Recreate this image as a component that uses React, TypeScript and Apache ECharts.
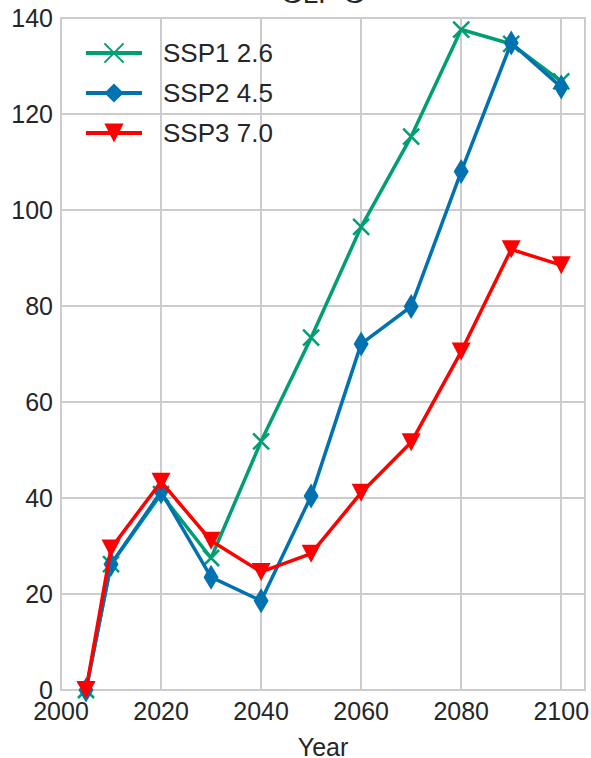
import React, { useEffect, useRef } from "react";
import * as echarts from "echarts";

const years = [2005, 2010, 2020, 2030, 2040, 2050, 2060, 2070, 2080, 2090, 2100];
const ssp126 = [0, 26.2, 40.8, 27.5, 51.8, 73.4, 96.5, 115.3, 137.6, 134.6, 126.8];
const ssp245 = [0, 26.2, 41.3, 23.5, 18.6, 40.4, 72.1, 79.9, 108.0, 134.8, 125.6];
const ssp370 = [0, 29.5, 43.4, 31.1, 24.6, 28.4, 41.1, 51.6, 70.5, 91.8, 88.5];
const seriesNames = ["SSP1 2.6", "SSP2 4.5", "SSP3 7.0"];
const titleText = "GLF G";
const xName = "Year";

const FONT = "'Liberation Sans', Arial, sans-serif";
const TXT = "#262626";
const GRIDC = "#cccccc";

export default function App() {
  const ref = useRef<HTMLDivElement>(null);
  useEffect(() => {
    if (!ref.current) return;
    const chart = echarts.init(ref.current, undefined, { renderer: "svg" });
    const mk = (vals: number[]) => years.map((y, i) => [y, vals[i]]);
    const colors = ["#009E73", "#0072B2", "#FF0000"];
    chart.setOption({
      animation: false,
      textStyle: { fontFamily: FONT },
      graphic: [
        {
          type: "text",
          x: 323,
          y: -7,
          style: {
            text: titleText,
            font: `28px ${FONT}`,
            fill: TXT,
            align: "center",
            verticalAlign: "middle",
          },
        },
      ],
      legend: {
        left: 84,
        top: 40,
        padding: 0,
        orient: "vertical",
        itemWidth: 56,
        itemHeight: 24,
        itemGap: 14,
        lineStyle: { width: 4 },
        textStyle: { fontSize: 26, lineHeight: 24, color: TXT, fontFamily: FONT, padding: [0, 0, 0, 16] },
        data: seriesNames,
      },
      grid: {
        left: 61,
        right: 6,
        top: 18,
        bottom: 68,
        containLabel: false,
        outerBoundsMode: "none",
        show: true,
        borderColor: GRIDC,
        borderWidth: 2,
      },
      xAxis: {
        type: "value",
        min: 2000,
        max: 2104.75,
        interval: 20,
        name: xName,
        nameLocation: "middle",
        nameGap: 44,
        nameTextStyle: { fontSize: 25, color: TXT, fontFamily: FONT },
        axisLine: { show: false },
        axisTick: { show: false },
        axisLabel: {
          fontSize: 25,
          color: TXT,
          fontFamily: FONT,
          margin: 8,
          formatter: (v: number) => (v % 20 === 0 ? String(v) : ""),
        },
        splitLine: { show: true, lineStyle: { color: GRIDC, width: 2 } },
      },
      yAxis: {
        type: "value",
        min: 0,
        max: 140,
        interval: 20,
        axisLine: { show: false },
        axisTick: { show: false },
        axisLabel: { fontSize: 25, color: TXT, fontFamily: FONT, margin: 8 },
        splitLine: { show: true, lineStyle: { color: GRIDC, width: 2 } },
      },
      series: [
        {
          name: seriesNames[0],
          type: "line",
          data: mk(ssp126),
          color: colors[0],
          symbol: "path://M0,0L10,10M10,0L0,10",
          symbolSize: 16,
          showAllSymbol: true,
          lineStyle: { width: 3.5, color: colors[0] },
          itemStyle: { color: "none", borderColor: colors[0], borderWidth: 2.5 },
          z: 2,
        },
        {
          name: seriesNames[1],
          type: "line",
          data: mk(ssp245),
          color: colors[1],
          symbol: "diamond",
          symbolSize: [15, 25],
          showAllSymbol: true,
          lineStyle: { width: 3.5, color: colors[1] },
          itemStyle: { color: colors[1], borderWidth: 0 },
          z: 3,
        },
        {
          name: seriesNames[2],
          type: "line",
          data: mk(ssp370),
          color: colors[2],
          symbol: "triangle",
          symbolRotate: 180,
          symbolSize: [19, 18],
          showAllSymbol: true,
          lineStyle: { width: 3.5, color: colors[2] },
          itemStyle: { color: colors[2], borderWidth: 0 },
          z: 4,
        },
      ],
    });
    return () => chart.dispose();
  }, []);
  return <div ref={ref} style={{ width: 591, height: 758, position: "absolute", left: 0, top: 0 }} />;
}
